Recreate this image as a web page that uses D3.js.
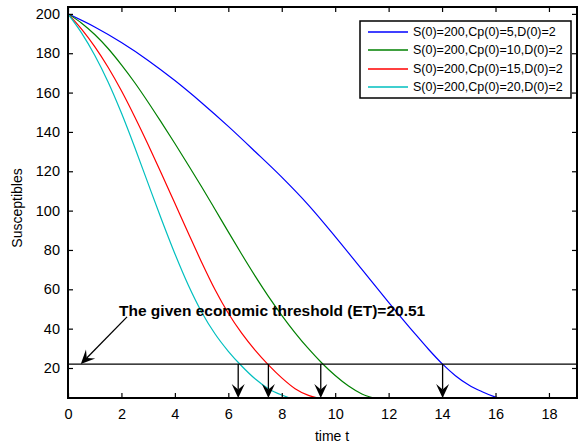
<!DOCTYPE html>
<html>
<head>
<meta charset="utf-8">
<script src="https://d3js.org/d3.v7.min.js"></script>
<style>
  body { margin: 0; background: #fff; }
  svg { display: block; font-family: "Liberation Sans", Arial, Helvetica, sans-serif; }
</style>
</head>
<body>
<svg id="chart" width="578" height="448"></svg>
<script>
// time points and S(t)
var tBlue  = [0, 1, 2, 3, 4, 5, 6, 7, 8, 9, 10, 11, 12, 13, 13.5, 14, 14.5, 15, 15.5, 16, 16.1];
var sBlue  = [200, 193.35, 185.45, 176.35, 166.1, 154.85, 142.8, 130.05, 117, 102.8, 86.8, 70.1, 53.4, 37.2, 29.4, 22.2, 16.1, 11.35, 7.95, 5.2, 4.75];
var tGreen = [0, 0.5, 1, 1.5, 2, 2.5, 3, 3.5, 4, 4.5, 5, 5.5, 6, 6.5, 7, 7.5, 8, 8.5, 9, 9.5, 10, 10.5, 11, 11.45];
var sGreen = [200, 195.4, 189.5, 182.4, 174.1, 165.0, 155.1, 144.7, 134.1, 123.2, 112.1, 100.7, 89.2, 77.8, 66.8, 56.4, 46.8, 37.9, 29.8, 22.55, 16.15, 10.8, 6.8, 4.75];
var tRed   = [0, 0.5, 1, 1.5, 2, 2.5, 3, 3.5, 4, 4.5, 5, 5.5, 6, 6.5, 7, 7.5, 8, 8.5, 9, 9.36];
var sRed   = [200, 192.4, 183.4, 172.9, 160.9, 147.6, 133.5, 118.8, 103.7, 88.6, 73.8, 59.9, 47.8, 37.7, 29.1, 21.6, 15.0, 9.5, 6.1, 4.75];
var tCyan  = [0, 0.5, 1, 1.5, 2, 2.5, 3, 3.5, 4, 4.5, 5, 5.5, 6, 6.5, 7, 7.5, 8, 8.3];
var sCyan  = [200, 190.5, 179, 165.4, 149.6, 132.1, 113.7, 95.5, 78.1, 62.2, 48.5, 37.4, 28.5, 21, 14.5, 9.5, 6.25, 4.75];

var seriesNames = ["S(0)=200,Cp(0)=5,D(0)=2", "S(0)=200,Cp(0)=10,D(0)=2",
                   "S(0)=200,Cp(0)=15,D(0)=2", "S(0)=200,Cp(0)=20,D(0)=2"];
var seriesColors = ["#0000ff", "#008000", "#ff0000", "#00bfbf"];

var xTicks = [0, 2, 4, 6, 8, 10, 12, 14, 16, 18];
var yTicks = [20, 40, 60, 80, 100, 120, 140, 160, 180, 200];

var etLine = 22;                          // where the threshold line sits
var etLabel = "The given economic threshold (ET)=20.51";
var crossT = [14.02, 9.46, 7.5, 6.37];    // arrows down to the time axis
var labelPt = [2.21, 46];                 // arrow start near the text
var labelTip = 0.48;                      // arrow tip on the ET line

var svg = d3.select("#chart");
var pL = 68, pR = 577, pT = 7, pB = 398;

var x = d3.scaleLinear().domain([0, 19.05]).range([pL, pR]);
var y = d3.scaleLinear().domain([4.75, 203.5]).range([pB, pT]);

var series = [[tBlue, sBlue], [tGreen, sGreen], [tRed, sRed], [tCyan, sCyan]].map(function(p, i) {
	return { name: seriesNames[i], color: seriesColors[i],
		values: p[0].map(function(t, j) { return { t: t, s: p[1][j] }; }) };
});

var line = d3.line()
	.x(function(d) { return x(d.t); })
	.y(function(d) { return y(d.s); })
	.curve(d3.curveMonotoneX);

svg.append("defs").append("clipPath").attr("id", "clip")
	.append("rect").attr("x", pL).attr("y", pT).attr("width", pR - pL).attr("height", pB - pT);

var plot = svg.append("g").attr("clip-path", "url(#clip)");
plot.selectAll("path.curve")
	.data(series)
	.enter().append("path")
	.attr("class", "curve")
	.attr("fill", "none")
	.attr("stroke", function(d) { return d.color; })
	.attr("stroke-width", 1.2)
	.attr("d", function(d) { return line(d.values); });

// threshold line
svg.append("line")
	.attr("x1", pL).attr("x2", pR)
	.attr("y1", y(etLine)).attr("y2", y(etLine))
	.attr("stroke", "#000").attr("stroke-width", 1.2);

// arrow head, tip at (x2,y2), pointing from (x1,y1)
function arrow(x1, y1, x2, y2) {
	var a = Math.atan2(y2 - y1, x2 - x1);
	var L = 14, W = 6.5, N = 8.5;
	var g = svg.append("g");
	g.append("line").attr("x1", x1).attr("y1", y1)
		.attr("x2", x2 - Math.cos(a) * N).attr("y2", y2 - Math.sin(a) * N)
		.attr("stroke", "#000").attr("stroke-width", 1.3);
	var pts = [[0, 0], [-L, -W], [-N, 0], [-L, W]].map(function(p) {
		return [x2 + p[0] * Math.cos(a) - p[1] * Math.sin(a),
		        y2 + p[0] * Math.sin(a) + p[1] * Math.cos(a)];
	});
	g.append("path").attr("d", "M" + pts.join("L") + "Z").attr("fill", "#000");
}

crossT.forEach(function(t) {
	arrow(x(t), y(etLine), x(t), pB);
});
arrow(x(labelPt[0]), y(labelPt[1]), x(labelTip), y(etLine));

svg.append("text")
	.attr("x", 119).attr("y", 316)
	.attr("font-size", 15.5).attr("font-weight", "bold")
	.text(etLabel);

// axes box and ticks (inside, like matlab)
svg.append("rect")
	.attr("x", pL).attr("y", pT).attr("width", pR - pL).attr("height", pB - pT)
	.attr("fill", "none").attr("stroke", "#000").attr("stroke-width", 2);

var gx = svg.append("g").attr("transform", "translate(0," + pB + ")")
	.call(d3.axisBottom(x).tickValues(xTicks).tickSizeInner(-5).tickSizeOuter(0).tickPadding(12));
var gxt = svg.append("g").attr("transform", "translate(0," + pT + ")")
	.call(d3.axisTop(x).tickValues(xTicks).tickSizeInner(-5).tickSizeOuter(0).tickFormat(""));
var gy = svg.append("g").attr("transform", "translate(" + pL + ",0)")
	.call(d3.axisLeft(y).tickValues(yTicks).tickSizeInner(-5).tickSizeOuter(0).tickPadding(8));
var gyr = svg.append("g").attr("transform", "translate(" + pR + ",0)")
	.call(d3.axisRight(y).tickValues(yTicks).tickSizeInner(-5).tickSizeOuter(0).tickFormat(""));

[gx, gxt, gy, gyr].forEach(function(g) {
	g.select(".domain").remove();
	g.selectAll("line").attr("stroke", "#000").attr("stroke-width", 1.2);
	g.selectAll("text").attr("font-size", 14.5).attr("fill", "#000")
		.attr("font-family", "Liberation Sans, Arial, sans-serif");
});
gx.selectAll("text").attr("dy", "0.71em").attr("y", 11);

svg.append("text")
	.attr("x", 332).attr("y", 441)
	.attr("text-anchor", "middle").attr("font-size", 14)
	.text("time t");

svg.append("text")
	.attr("transform", "translate(22,208) rotate(-90)")
	.attr("text-anchor", "middle").attr("font-size", 14)
	.text("Susceptibles");

// legend
var legend = svg.append("g").attr("transform", "translate(360,21)");
legend.append("rect")
	.attr("width", 211).attr("height", 77)
	.attr("fill", "#fff").attr("stroke", "#000").attr("stroke-width", 1.5);
var item = legend.selectAll("g.item")
	.data(series)
	.enter().append("g")
	.attr("class", "item")
	.attr("transform", function(d, i) { return "translate(0," + (11 + Math.round(i * 18.3)) + ")"; });
item.append("path")
	.attr("d", "M8,0H48")
	.attr("fill", "none")
	.attr("stroke", function(d) { return d.color; })
	.attr("stroke-width", 1.5);
item.append("text")
	.attr("x", 53).attr("dy", "0.35em")
	.attr("font-size", 12.5)
	.text(function(d) { return d.name; });
</script>
</body>
</html>
